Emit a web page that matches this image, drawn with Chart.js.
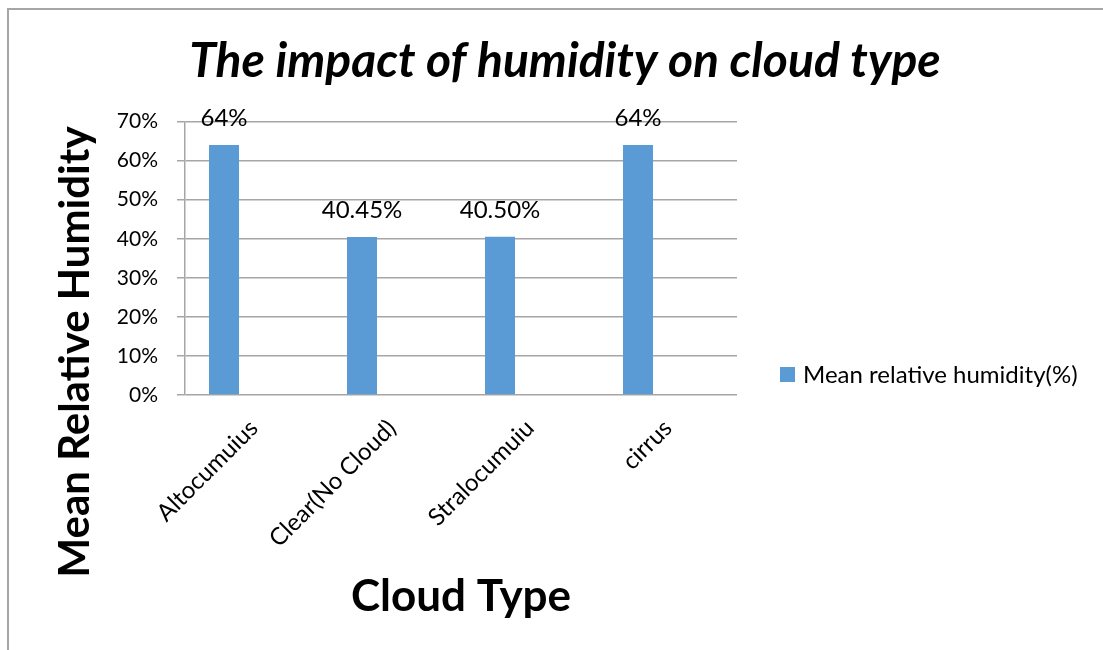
<!DOCTYPE html>
<html>
<head>
<meta charset="utf-8">
<title>The impact of humidity on cloud type</title>
<script src="https://cdn.jsdelivr.net/npm/chart.js@4.4.1/dist/chart.umd.min.js"></script>
<style>
  html, body { margin: 0; padding: 0; background: #fff; }
  #wrap { position: relative; width: 1103px; height: 650px; }
  #legend { position: absolute; font: 24px Lato, "Open Sans", sans-serif; color: #000; line-height: 24px; white-space: nowrap; }
  #legend .item { display: flex; align-items: center; }
  #legend .box { display: inline-block; width: 15px; height: 15px; margin-right: 8px; }
</style>
</head>
<body>
<div id="wrap">
  <canvas id="cloudChart" width="1103" height="650"></canvas>
  <div id="legend"></div>
</div>
<script>
const cloudTypes = ['Altocumuius', 'Clear(No Cloud)', 'Stralocumuiu', 'cirrus'];
const meanHumidity = [0.64, 0.4045, 0.405, 0.64];
const humidityLabels = ['64%', '40.45%', '40.50%', '64%'];
// the sheet had two more (empty) series, which is why the bars sit left of centre
const seriesTwo = [null, null, null, null];
const seriesThree = [null, null, null, null];

const gridGrey = '#a6a6a6';
const barBlue = '#5b9bd5';

Chart.defaults.font.family = 'Lato, "Open Sans", sans-serif';
Chart.defaults.animation = false;

const framePlugin = {
    id: 'frame',
    beforeDraw(chart) {
        const ctx = chart.ctx;
        ctx.save();
        ctx.strokeStyle = gridGrey;
        ctx.lineWidth = 2;
        ctx.beginPath();
        ctx.moveTo(8, chart.height);
        ctx.lineTo(8, 9);
        ctx.lineTo(chart.width, 9);
        ctx.stroke();
        ctx.restore();
    }
};

const valueLabelPlugin = {
    id: 'valueLabels',
    afterDatasetsDraw(chart) {
        const ctx = chart.ctx;
        const meta = chart.getDatasetMeta(0);
        ctx.save();
        ctx.font = '24px Lato, "Open Sans", sans-serif';
        ctx.fillStyle = '#000';
        ctx.textAlign = 'center';
        ctx.textBaseline = 'middle';
        meta.data.forEach((bar, i) => {
            ctx.fillText(humidityLabels[i], bar.x, bar.y - 27);
        });
        ctx.restore();
    }
};

const yTitlePlugin = {
    id: 'yTitle',
    afterDraw(chart) {
        const ctx = chart.ctx;
        const area = chart.chartArea;
        ctx.save();
        ctx.translate(area.left - 110, area.bottom - 43);
        ctx.rotate(-Math.PI / 2);
        ctx.font = 'bold 42px Lato, "Open Sans", sans-serif';
        ctx.fillStyle = '#000';
        ctx.textAlign = 'center';
        ctx.textBaseline = 'middle';
        ctx.fillText('Mean Relative Humidity', 0, 0);
        ctx.restore();
    }
};

// legend as html, the built-in one can't get wide enough on the right
const htmlLegendPlugin = {
    id: 'htmlLegend',
    afterUpdate(chart) {
        const el = document.getElementById('legend');
        el.innerHTML = '';
        const items = chart.options.plugins.legend.labels.generateLabels(chart)
            .filter(item => item.datasetIndex === 0);
        items.forEach(item => {
            const row = document.createElement('div');
            row.className = 'item';
            const box = document.createElement('span');
            box.className = 'box';
            box.style.background = item.fillStyle;
            row.appendChild(box);
            row.appendChild(document.createTextNode(item.text));
            el.appendChild(row);
        });
        el.style.left = (chart.chartArea.right + 43) + 'px';
        el.style.top = (chart.chartArea.bottom - 33) + 'px';
    }
};

const data = {
    labels: cloudTypes,
    datasets: [
        { label: 'Mean relative humidity(%)', data: meanHumidity, backgroundColor: barBlue },
        { label: 'Series 2', data: seriesTwo, backgroundColor: barBlue },
        { label: 'Series 3', data: seriesThree, backgroundColor: barBlue }
    ]
};

const config = {
    type: 'bar',
    data: data,
    options: {
        responsive: false,
        devicePixelRatio: 1,
        categoryPercentage: 0.652,
        barPercentage: 1.0,
        layout: { padding: { left: 60, right: 33, top: 0, bottom: 0 } },
        plugins: {
            title: {
                display: true,
                text: 'The impact of humidity on cloud type',
                color: '#000',
                font: { size: 48, weight: 'bold', style: 'italic' },
                padding: { top: 33, bottom: 31 }
            },
            legend: { display: false },
            tooltip: { enabled: false }
        },
        scales: {
            x: {
                grid: { display: false, drawTicks: false },
                border: { display: false },
                ticks: { color: '#000', font: { size: 24 }, maxRotation: 45, minRotation: 45, padding: 19, autoSkip: false },
                title: {
                    display: true,
                    text: 'Cloud Type',
                    color: '#000',
                    font: { size: 44, weight: 'bold' },
                    padding: { top: 0, bottom: 27 }
                },
                afterFit: scale => { scale.height = 255; }
            },
            y: {
                min: 0,
                max: 0.7,
                ticks: {
                    stepSize: 0.1,
                    color: '#000',
                    font: { size: 21 },
                    padding: 19,
                    callback: v => Math.round(v * 100) + '%'
                },
                grid: { color: gridGrey, lineWidth: 1.5, tickLength: 8 },
                border: { display: true, color: gridGrey, width: 1.5 },
                afterFit: scale => { scale.width = 125; }
            },
            // empty right-hand axis, only keeps room for the legend
            y2: {
                position: 'right',
                grid: { display: false, drawTicks: false },
                border: { display: false },
                ticks: { display: false },
                afterFit: scale => { scale.width = 333; }
            }
        }
    },
    plugins: [framePlugin, valueLabelPlugin, yTitlePlugin, htmlLegendPlugin]
};

new Chart(document.getElementById('cloudChart'), config);
</script>
</body>
</html>
